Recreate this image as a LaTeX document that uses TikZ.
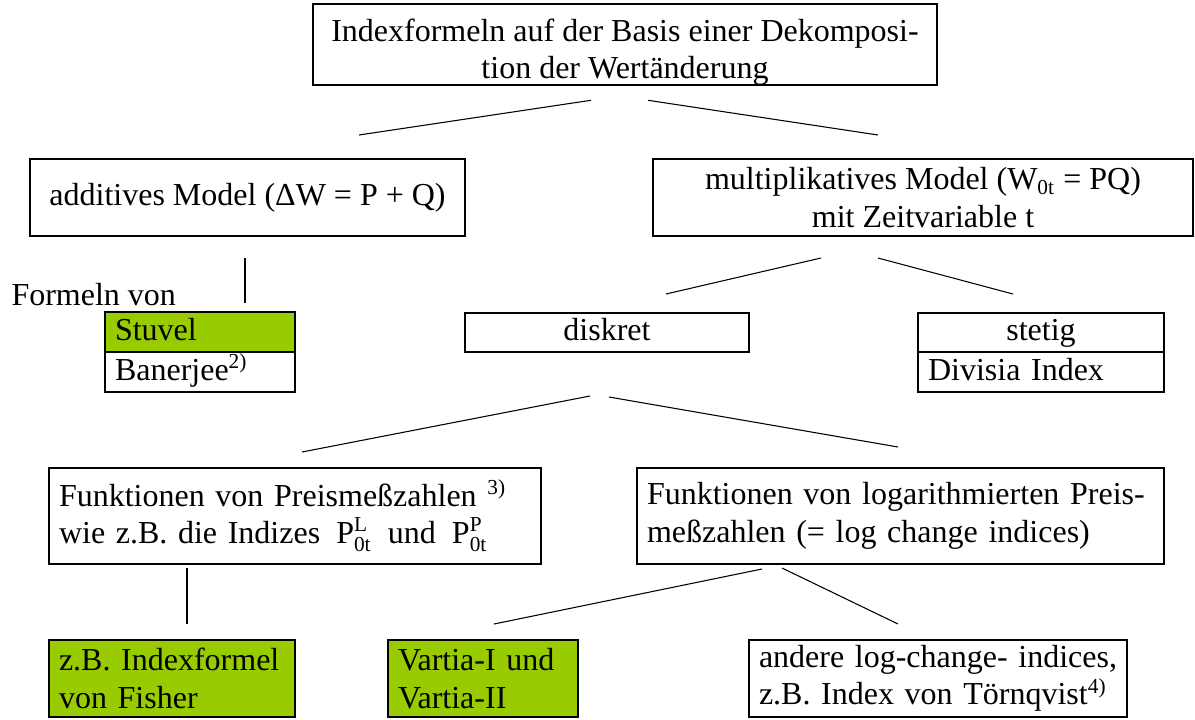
\documentclass[tikz,border=0pt]{standalone}
\usepackage{amsmath}
\usepackage{fontspec}
\setmainfont{Liberation Serif}
\usepackage{xcolor}
\usepackage{tikz}
\usetikzlibrary{positioning}
\usetikzlibrary{calc}

\definecolor{hellgruen}{HTML}{99CC00}

\begin{document}
\begin{tikzpicture}[x=0.375pt,y=-0.375pt,
    kasten/.style={draw, line width=0.75pt, inner ysep=0pt, inner xsep=3.75pt,
        font=\fontsize{12}{14}\selectfont},
    zeile/.style={text height=8.6pt, text depth=2.6pt},
    links/.style={kasten, align=left},
    gruen/.style={fill=hellgruen},
    linie/.style={line width=0.4pt}]
    \useasboundingbox (0,0) rectangle (1195,719);

    % Draw boxes
    \node[kasten, align=center, minimum width=234pt, minimum height=28.875pt] (top) at (625,44.5)
        {\rule{0pt}{14pt}Indexformeln auf der Basis einer Dekomposi-\\tion der Wertänderung};
    \node[kasten, minimum width=163.125pt, minimum height=28.875pt] (add) at (247.5,197.5)
        {additives Model (ΔW = P + Q)};
    \node[kasten, align=center, minimum width=202.5pt, minimum height=28.875pt] (mult) at (923,197.5)
        {multiplikatives Model (W\textsubscript{0t} = PQ)\\mit Zeitvariable t};

    \node[anchor=base west, font=\fontsize{12}{14}\selectfont, inner sep=0pt] (formeln) at (11,305) {Formeln von};
    \node[links, zeile, gruen, text width=63.75pt, minimum height=15pt] (stuvel) at (200,332) {Stuvel};
    \node[links, zeile, text width=63.75pt, minimum height=15pt] (banerjee) at (200,372) {Banerjee\textsuperscript{2)}};

    \node[kasten, zeile, minimum width=106.5pt, minimum height=14.625pt] (diskret) at (607,332.5) {diskret};
    \node[kasten, zeile, minimum width=92.25pt, minimum height=14.625pt] (stetig) at (1041,332.5) {stetig};
    \node[links, zeile, text width=84.75pt, minimum height=15pt] (divisia) at (1041,372) {Divisia Index};

    \node[links, text width=177pt, minimum height=36pt] (preis) at (295,516)
        {Funktionen von Preismeßzahlen \textsuperscript{3)}\\
         \mbox{wie z.B. die Indizes \,$\text{P}^{\text{L}}_{\text{0t}}$\, und \,$\text{P}^{\text{P}}_{\text{0t}}$}};
    \node[links, text width=190.1pt, minimum height=36pt] (log) at (900.5,516)
        {\mbox{Funktionen von logarithmierten Preis-}\\\mbox{meßzahlen (= log change indices)}\\[4pt]};

    \node[links, gruen, text width=84.75pt, minimum height=28.875pt] (fisher) at (172,678.5)
        {z.B. Indexformel\\von Fisher};
    \node[links, gruen, text width=63.75pt, minimum height=28.875pt] (vartia) at (483,678.5)
        {\mbox{Vartia-I und}\\Vartia-II};
    \node[links, text width=134.25pt, minimum height=28.875pt] (andere) at (938,678.5)
        {\mbox{andere log-change- indices,}\\\mbox{z.B. Index von Törnqvist\textsuperscript{4)}}};

    % Draw connectors
    \draw[linie] ($(top.south)+(-34,14)$) -- ($(add.north)+(111.5,-23)$);
    \draw[linie] ($(top.south)+(23,14)$) -- ($(mult.north)+(-45,-23)$);
    \draw[linie] ($(add.south)+(-2.5,21)$) -- ($(stuvel.north)+(45,-8)$);
    \draw[linie] ($(mult.south)+(-102,21)$) -- ($(diskret.north)+(59,-18)$);
    \draw[linie] ($(mult.south)+(-45,21)$) -- ($(stetig.north)+(-28,-18)$);
    \draw[linie] ($(diskret.south)+(-17,43)$) -- ($(preis.north)+(7,-15)$);
    \draw[linie] ($(diskret.south)+(2,44)$) -- ($(log.north)+(-2.5,-20)$);
    \draw[linie] ($(preis.south)+(-108,3)$) -- ($(fisher.north)+(15,-15)$);
    \draw[linie] ($(log.south)+(-138.5,4)$) -- ($(vartia.north)+(11,-15)$);
    \draw[linie] ($(log.south)+(-118.5,3)$) -- ($(andere.north)+(-40,-15)$);
\end{tikzpicture}
\end{document}
